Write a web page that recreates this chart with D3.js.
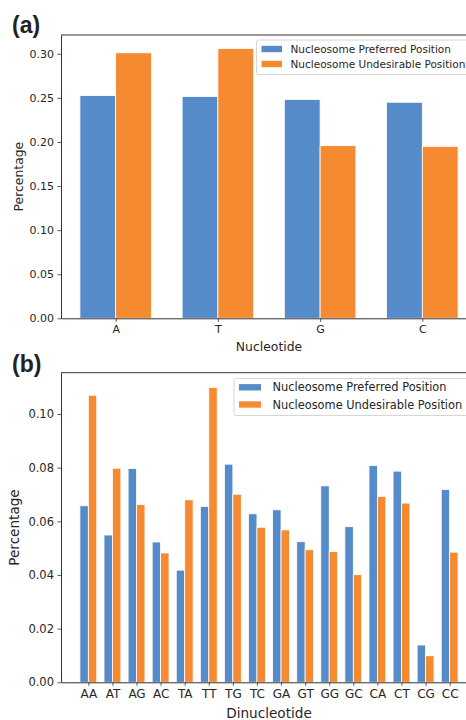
<!DOCTYPE html>
<html>
<head>
<meta charset="utf-8">
<script src="https://cdn.jsdelivr.net/npm/d3@7"></script>
<style>
  body { margin: 0; background: #fff; }
  svg { display: block; }
</style>
</head>
<body>
<script>
var nucleotides = ['A', 'T', 'G', 'C'];
var nucPreferred = [0.2526, 0.2515, 0.2481, 0.2450];
var nucUndesirable = [0.3011, 0.3060, 0.1958, 0.1950];

var dinucleotides = ['AA', 'AT', 'AG', 'AC', 'TA', 'TT', 'TG', 'TC',
                     'GA', 'GT', 'GG', 'GC', 'CA', 'CT', 'CG', 'CC'];
var dinPreferred = [0.0658, 0.0549, 0.0797, 0.0523, 0.0418, 0.0655, 0.0813, 0.0628,
                    0.0643, 0.0524, 0.0732, 0.0580, 0.0808, 0.0787, 0.0139, 0.0719];
var dinUndesirable = [0.1070, 0.0798, 0.0663, 0.0482, 0.0680, 0.1099, 0.0701, 0.0578,
                      0.0568, 0.0494, 0.0488, 0.0401, 0.0693, 0.0668, 0.0099, 0.0485];

var seriesNames = ['Nucleosome Preferred Position', 'Nucleosome Undesirable Position'];
var ticksA = [0, 0.05, 0.10, 0.15, 0.20, 0.25, 0.30];
var ticksB = [0, 0.02, 0.04, 0.06, 0.08, 0.10];

var colorBlue = '#568bca',
    colorOrange = '#f58a31',
    colorAxis = '#333',
    colorText = '#262626',
    fontFamily = '"DejaVu Sans", sans-serif';

var svg = d3.select('body')
        .append('svg')
        .attr('width', 466)
        .attr('height', 720);

function drawPanel(cfg) {
    var barW = 0.35;
    var n = cfg.cats.length;
    var maxV = d3.max(cfg.s1.concat(cfg.s2));
    var pad = (n - 1 + 2 * barW) * 0.05;

    var x = d3.scaleLinear()
            .domain([-barW - pad, n - 1 + barW + pad])
            .range([cfg.left, cfg.right]);
    var y = d3.scaleLinear()
            .domain([0, maxV * 1.05])
            .range([cfg.bottom, cfg.top]);

    var g = svg.append('g');

    // bars
    [cfg.s1, cfg.s2].forEach(function(vals, s) {
        g.selectAll('.bar' + s).data(vals).enter()
            .append('rect')
                .attr('x', function(d, i) { return x(i - barW + s * barW); })
                .attr('y', function(d) { return y(d); })
                .attr('width', x(barW) - x(0))
                .attr('height', function(d) { return y(0) - y(d); })
                .attr('fill', s == 0 ? colorBlue : colorOrange)
                .attr('stroke', '#fff')
                .attr('stroke-width', 0.8);
    });

    // axes
    var yAxis = d3.axisLeft(y).tickValues(cfg.yTicks).tickFormat(d3.format('.2f'))
            .tickSizeInner(3.5).tickSizeOuter(0).tickPadding(3.5);
    var xAxis = d3.axisBottom(x).tickValues(d3.range(n)).tickFormat(function(i) { return cfg.cats[i]; })
            .tickSizeInner(3.5).tickSizeOuter(0).tickPadding(3.5);

    var ya = g.append('g').attr('transform', 'translate(' + cfg.left + ',0)').call(yAxis);
    var xa = g.append('g').attr('transform', 'translate(0,' + cfg.bottom + ')').call(xAxis);
    [ya, xa].forEach(function(a) {
        a.select('.domain').attr('stroke', colorAxis).attr('stroke-width', 1);
        a.selectAll('.tick line').attr('stroke', colorAxis).attr('stroke-width', 0.8);
        a.selectAll('.tick text').attr('fill', colorText).style('font-family', fontFamily);
    });
    ya.selectAll('.tick text').style('font-size', cfg.yTickSize + 'px');
    xa.selectAll('.tick text').style('font-size', cfg.xTickSize + 'px');

    // top spine
    g.append('line')
            .attr('x1', cfg.left).attr('x2', cfg.right)
            .attr('y1', cfg.top).attr('y2', cfg.top)
            .attr('stroke', colorAxis).attr('stroke-width', 1);

    // axis labels
    g.append('text')
            .attr('x', (cfg.left + cfg.right) / 2)
            .attr('y', cfg.xLabelY)
            .attr('text-anchor', 'middle')
            .attr('fill', colorText)
            .style('font-family', fontFamily)
            .style('font-size', cfg.labelSize + 'px')
            .text(cfg.xLabel);
    g.append('text')
            .attr('transform', 'translate(' + cfg.yLabelX + ',' + (cfg.top + cfg.bottom) / 2 + ') rotate(-90)')
            .attr('text-anchor', 'middle')
            .attr('fill', colorText)
            .style('font-family', fontFamily)
            .style('font-size', cfg.labelSize + 'px')
            .text('Percentage');

    // legend
    var lg = g.append('g').attr('transform', 'translate(' + cfg.legendX + ',' + cfg.legendY + ')');
    lg.append('rect')
            .attr('x', 0).attr('y', 0)
            .attr('width', 260).attr('height', cfg.legendH)
            .attr('rx', 2)
            .attr('fill', '#fff')
            .attr('fill-opacity', 0.85)
            .attr('stroke', '#ccc')
            .attr('stroke-width', 0.8);
    seriesNames.forEach(function(name, s) {
        var cy = cfg.legendRow0 + s * cfg.legendStep;
        lg.append('rect')
                .attr('x', 5).attr('y', cy - 3.2)
                .attr('width', cfg.swatchW).attr('height', 6.4)
                .attr('fill', s == 0 ? colorBlue : colorOrange);
        lg.append('text')
                .attr('x', cfg.legendTextX)
                .attr('y', cy)
                .attr('dominant-baseline', 'central')
                .attr('fill', colorText)
                .style('font-family', fontFamily)
                .style('font-size', cfg.legendSize + 'px')
                .text(name);
    });

    // panel tag
    svg.append('text')
            .attr('x', 12)
            .attr('y', cfg.tagY)
            .attr('fill', '#222')
            .style('font-family', '"Liberation Sans", Arial, sans-serif')
            .style('font-size', '23px')
            .style('font-weight', 'bold')
            .text(cfg.tag);
}

drawPanel({
    tag: '(a)', tagY: 33,
    cats: nucleotides, s1: nucPreferred, s2: nucUndesirable, yTicks: ticksA,
    left: 61, right: 477, top: 35, bottom: 318.3,
    yTickSize: 11, xTickSize: 11, labelSize: 12.4,
    xLabel: 'Nucleotide', xLabelY: 350.5, yLabelX: 23,
    legendX: 256.5, legendY: 40, legendH: 34.5, legendRow0: 9, legendStep: 15,
    swatchW: 20.5, legendTextX: 34, legendSize: 10.5
});

drawPanel({
    tag: '(b)', tagY: 372,
    cats: dinucleotides, s1: dinPreferred, s2: dinUndesirable, yTicks: ticksB,
    left: 61, right: 477, top: 372.7, bottom: 682.3,
    yTickSize: 11.5, xTickSize: 12, labelSize: 13.6,
    xLabel: 'Dinucleotide', xLabelY: 718, yLabelX: 18.5,
    legendX: 234, legendY: 378.5, legendH: 37, legendRow0: 8.8, legendStep: 17.2,
    swatchW: 22, legendTextX: 38.5, legendSize: 11.4
});
</script>
</body>
</html>
